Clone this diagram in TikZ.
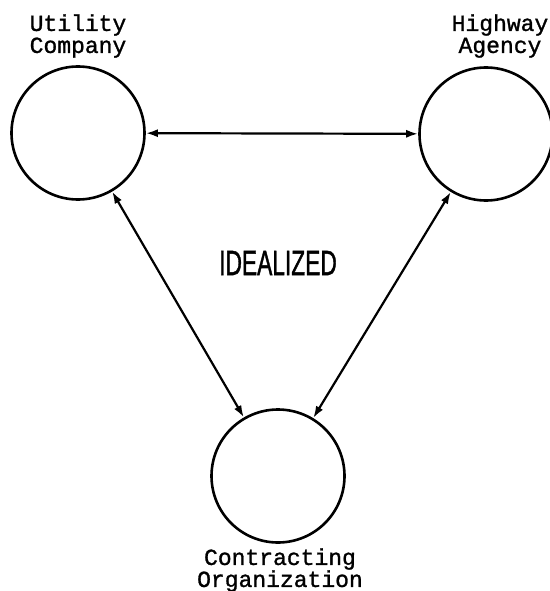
\documentclass[tikz,border=0pt]{standalone}
\usepackage{fontspec}
\usepackage{graphicx}
\newfontfamily\typewr{Liberation Mono}[FakeBold=1.2]
\newfontfamily\labelsans{Liberation Sans}[FakeBold=1.5]
\usetikzlibrary{arrows.meta}
\begin{document}
\begin{tikzpicture}[x=1bp,y=-1bp,
  party/.style={circle, draw, line width=2.6bp, minimum size=133bp, inner sep=0pt},
  lbl/.style={align=center, font=\fontsize{23bp}{22bp}\selectfont\typewr, inner sep=0pt},
  link/.style={line width=2.2bp, {Latex[length=12bp,width=8bp]}-{Latex[length=12bp,width=8bp]}}]
\useasboundingbox (0,0) rectangle (550,591);
\node[party] (u) at (78,133) {};
\node[party] (h) at (486,134) {};
\node[party] (c) at (278,476) {};
\node[lbl] (ul) at (78,36) {Utility\\Company};
\node[lbl] (hl) at (500,36) {Highway\\Agency};
\node[lbl] (cl) at (280,570) {Contracting\\Organization};
\node[inner sep=0pt, font=\fontsize{35bp}{35bp}\selectfont\labelsans] (id) at (278,263) {\scalebox{0.65}[1]{IDEALIZED}};
\draw[link] (u) -- (h);
\draw[link] (u) -- (c);
\draw[link] (h) -- (c);
\end{tikzpicture}
\end{document}
